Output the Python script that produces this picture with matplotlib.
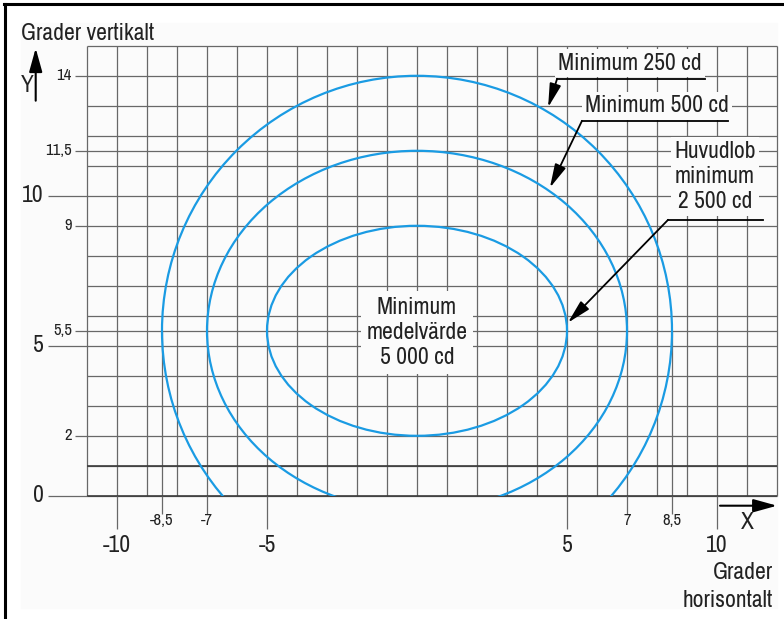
import matplotlib
matplotlib.use("Agg")
import matplotlib.pyplot as plt
from matplotlib import font_manager
from matplotlib.lines import Line2D
from matplotlib.patches import Ellipse, Rectangle

# pick a narrow sans if one is installed (the original uses a condensed grotesk)
fonts = font_manager.fontManager.ttflist
names = {f.name for f in fonts}
narrow = [f.name for f in fonts if "Narrow" in f.name or "Condensed" in f.name]
stretched = [f.name for f in fonts if f.stretch in ("condensed", "semi-condensed", "extra-condensed")]
if "Liberation Sans Narrow" in names:
    family = "Liberation Sans Narrow"
elif narrow:
    family = narrow[0]
elif stretched:
    family = stretched[0]
    plt.rcParams["font.stretch"] = "condensed"
else:
    family = "Roboto"
plt.rcParams["font.family"] = [family, "Liberation Sans", "DejaVu Sans"]

# contours (degrees): 250 cd, 500 cd, 2 500 cd
contour_names = ["Minimum 250 cd", "Minimum 500 cd", "Huvudlob\nminimum\n2 500 cd"]
half_widths = [8.5, 7.0, 5.0]
top_y = [14.0, 11.5, 9.0]
center_y = 5.5

# grid
grid_x = list(range(-11, 13))
grid_y = list(range(0, 16)) + [5.5, 11.5]
short_x = [-8.5, 8.5]

# ticks
y_major = [0, 5, 10]
y_minor = [2, 5.5, 9, 11.5, 14]
x_major = [-10, -5, 5, 10]
x_minor = [-8.5, -7, 7, 8.5]

BIG = 17
SMALL = 12


def fmt(v):
    return f"{v:g}".replace(".", ",")


fig = plt.figure(figsize=(7.84, 6.19), dpi=100)
ax = fig.add_axes([0, 0, 1, 1])
ax.set_xlim(-417 / 30, (784 - 417) / 30)
ax.set_ylim((495.8 - 619) / 30, 495.8 / 30)
ax.axis("off")

grid_col = "#686868"
blue = "#1a9be3"
txt = "#222222"
bg = "#fbfbfb"

# light inner background
ax.add_patch(Rectangle((-13.2, -3.73), 25.2, 19.5, color=bg, zorder=0))

# grid lines
ax.vlines(grid_x, 0, 15, color=grid_col, lw=0.9, zorder=1)
ax.hlines(grid_y, -11, 12, color=grid_col, lw=0.9, zorder=1)
ax.vlines(short_x, 0, center_y, color=grid_col, lw=0.9, zorder=1)
ax.hlines([0, 1], -11, 12, color="#3c3c3c", lw=1.2, zorder=1)

# ticks outside the grid
ax.hlines(y_major, -12.3, -11, color=grid_col, lw=0.9)
ax.hlines(y_minor, -11.4, -11, color=grid_col, lw=0.9)
ax.vlines(x_major, -1.1, 0, color=grid_col, lw=0.9)
ax.vlines(x_minor, -0.6, 0, color=grid_col, lw=0.9)

for v in y_major:
    ax.text(-12.45, v, fmt(v), ha="right", va="center", fontsize=BIG, color=txt)
for v in y_minor:
    ax.text(-11.5, v, fmt(v), ha="right", va="center", fontsize=SMALL, color=txt)
for v in x_major:
    ax.text(v, -1.67, fmt(v), ha="center", va="center", fontsize=BIG, color=txt)
for v in x_minor:
    ax.text(v, -0.82, fmt(v), ha="center", va="center", fontsize=SMALL, color=txt)

# contours, cut at y = 0
clip = Rectangle((-20, 0), 40, 20, transform=ax.transData)
for hw, ty in zip(half_widths, top_y):
    e = Ellipse((0, center_y), 2 * hw, 2 * (ty - center_y), fill=False,
                edgecolor=blue, lw=1.6, zorder=3)
    ax.add_patch(e)
    e.set_clip_path(clip)

# centre label
ax.text(0, 5.45, "Minimum\nmedelvärde\n5 000 cd", ha="center", va="center",
        fontsize=BIG, color=txt, linespacing=1.25, zorder=4,
        bbox=dict(boxstyle="square,pad=0.25", fc=bg, ec="none"))

# leader labels
label_pos = [(7.1, 14.42), (8.0, 13.0), (9.93, 10.64)]
corners = [(4.67, 13.9), (5.5, 12.5), (8.37, 9.2)]
line_ends = [9.6, 10.37, 11.53]
tips = [(4.37, 12.95), (4.43, 10.27), (5.03, 5.77)]
for name, (lx, ly), (cx, cy), le, tip in zip(contour_names, label_pos, corners, line_ends, tips):
    ax.text(lx, ly, name, ha="center", va="center", fontsize=BIG, color=txt,
            linespacing=1.25, zorder=4,
            bbox=dict(boxstyle="square,pad=0.15", fc=bg, ec="none"))
    ax.plot([cx, le], [cy, cy], color="black", lw=1.3, zorder=5)
    ax.annotate("", xy=tip, xytext=(cx, cy), zorder=5,
                arrowprops=dict(arrowstyle="-|>,head_length=0.9,head_width=0.22",
                                color="black", lw=1.3, shrinkA=0, shrinkB=0,
                                mutation_scale=16))

# axis arrows and titles
ax.annotate("", xy=(-12.71, 14.92), xytext=(-12.71, 13.17),
            arrowprops=dict(arrowstyle="-|>,head_length=0.9,head_width=0.25",
                            color="black", lw=1.5, shrinkA=0, shrinkB=0, mutation_scale=16))
ax.text(-12.98, 13.67, "Y", ha="center", va="center", fontsize=BIG, color=txt)
ax.text(-13.2, 15.42, "Grader vertikalt", ha="left", va="center", fontsize=BIG, color=txt)

ax.annotate("", xy=(12.0, -0.33), xytext=(10.1, -0.33),
            arrowprops=dict(arrowstyle="-|>,head_length=0.9,head_width=0.25",
                            color="black", lw=1.5, shrinkA=0, shrinkB=0, mutation_scale=16))
ax.text(11.0, -0.9, "X", ha="center", va="center", fontsize=BIG, color=txt)
ax.text(11.87, -3.03, "Grader\nhorisontalt", ha="right", va="center", fontsize=BIG,
        color=txt, linespacing=1.4)

# frame on the left and top
fig.add_artist(Line2D([0.0058, 0.0058], [0, 0.994], color="black", lw=2.2))
fig.add_artist(Line2D([0.0045, 1], [0.9935, 0.9935], color="black", lw=2.2))

fig.savefig("out.png", dpi=100)
